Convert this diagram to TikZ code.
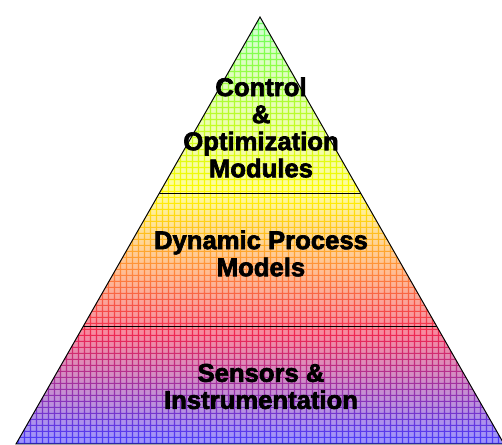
\documentclass[tikz,border=0pt]{standalone}
\usepackage{fontspec}
\usepackage{tikz}
\usetikzlibrary{calc}
\usepackage{xcolor}
\newfontfamily\pyrfont{Liberation Sans}[BoldFeatures={FakeBold=2.6}]
\definecolor{pgreen}{RGB}{100,255,100}
\definecolor{pyellow}{RGB}{255,250,0}
\definecolor{porange}{RGB}{255,140,60}
\definecolor{pred}{RGB}{240,40,80}
\definecolor{pblue}{RGB}{70,60,255}
% grid lines use the full colours, cells the washed out ones
\pgfdeclareverticalshading{pyrline}{100bp}{color(0bp)=(pblue); color(25bp)=(pblue); color(38bp)=(pred); color(45.5bp)=(porange); color(54.5bp)=(pyellow); color(75bp)=(pgreen); color(100bp)=(pgreen)}
\pgfdeclareverticalshading{pyrcell}{100bp}{color(0bp)=(pblue!55); color(25bp)=(pblue!55); color(38bp)=(pred!55); color(45.5bp)=(porange!55); color(54.5bp)=(pyellow!40); color(75bp)=(pgreen!30); color(100bp)=(pgreen!30)}
\tikzstyle{layertext} = [align=center, text=black, font=\pyrfont\bfseries\fontsize{14.6}{15.4}\selectfont]
\tikzstyle{divider} = [line width=0.9pt, black]

\begin{document}
\begin{tikzpicture}
\useasboundingbox (0,0) rectangle (10.04,8.9);

% Corners
\coordinate (apex) at (5.2,8.56);
\coordinate (bl) at (0.32,0.02);
\coordinate (br) at (10.08,0.02);

% Colour fill
\shade[shading=pyrcell] (apex) -- (bl) -- (br) -- cycle;

% Grid on top of the fill
\begin{scope}
\clip (apex) -- (bl) -- (br) -- cycle;
\clip \foreach \i in {0,...,84} {(\i*0.12,0) rectangle ++(0.022,8.9)}
      \foreach \j in {0,...,74} {(0,0.02+\j*0.12) rectangle ++(10.1,0.022)};
\shade[shading=pyrline] (apex) -- (bl) -- (br) -- cycle;
\end{scope}

% Outline and layer borders
\draw[line width=0.55pt] (apex) -- (bl) -- (br) -- cycle;
\draw[divider] ($(apex)!0.413!(bl)$) -- ($(apex)!0.413!(br)$);
\draw[divider] ($(apex)!0.725!(bl)$) -- ($(apex)!0.725!(br)$);

% Layers
\node[layertext] (control) at (5.22,6.35) {Control\\\&\\Optimization\\Modules};
\node[layertext] (models) at (5.22,3.83) {Dynamic Process\\Models};
\node[layertext] (sensors) at (5.22,1.17) {Sensors \&\\Instrumentation};
\end{tikzpicture}
\end{document}
